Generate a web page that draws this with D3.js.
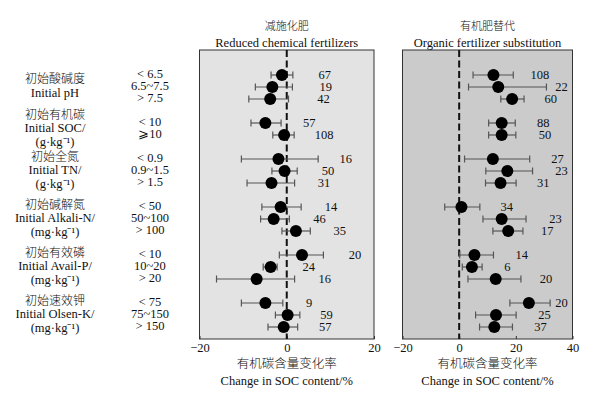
<!DOCTYPE html>
<html>
<head>
<meta charset="utf-8">
<script src="https://cdn.jsdelivr.net/npm/d3@7"></script>
<style>
  body { margin: 0; background: #fff; }
  svg text { font-family: "Liberation Serif", "Times New Roman", "Noto Sans CJK SC", serif; fill: #111; }
  svg text.zh { font-weight: 300; }
</style>
</head>
<body>
<div class="canvas"></div>
<script>
// row groups (Chinese name, English lines)
const groupZh = ['初始酸碱度', '初始有机碳', '初始全氮', '初始碱解氮', '初始有效磷', '初始速效钾'];
const groupEn = [
  ['Initial pH'],
  ['Initial SOC/', '(g·kg⁻¹)'],
  ['Initial TN/', '(g·kg⁻¹)'],
  ['Initial Alkali-N/', '(mg·kg⁻¹)'],
  ['Initial Avail-P/', '(mg·kg⁻¹)'],
  ['Initial Olsen-K/', '(mg·kg⁻¹)']
];
const categories = [
  ['< 6.5', '6.5~7.5', '> 7.5'],
  ['< 10', '⩾10'],
  ['< 0.9', '0.9~1.5', '> 1.5'],
  ['< 50', '50~100', '> 100'],
  ['< 10', '10~20', '> 20'],
  ['< 75', '75~150', '> 150']
];

// reduced chemical fertilizers
const rcfMean = [-1.1, -3.3, -3.8, -4.9, -0.6, -1.9, -0.5, -3.5, -1.4, -3.0, 2.1, 3.5, -3.7, -6.9, -4.9, 0.2, -0.7];
const rcfLow  = [-3.6, -7.2, -8.7, -8.2, -3.2, -10.4, -3.4, -9.1, -5.7, -6.0, -1.1, -1.7, -5.4, -16.1, -10.4, -2.6, -4.3];
const rcfHigh = [1.4, 1.3, 0.4, -1.3, 1.7, 7.2, 2.4, 1.8, 3.3, 0.6, 5.4, 8.4, -2.2, 1.8, -0.9, 3.0, 2.5];
const rcfN    = [67, 19, 42, 57, 108, 16, 50, 31, 14, 46, 35, 20, 24, 16, 9, 59, 57];

// organic fertilizer substitution
const ofsMean = [12.1, 13.8, 18.7, 15.0, 15.0, 11.9, 17.0, 14.6, 0.8, 15.0, 17.3, 5.4, 4.5, 12.9, 24.6, 13.0, 12.4];
const ofsLow  = [4.9, 3.3, 14.7, 10.4, 10.4, 1.9, 9.4, 9.3, -5.1, 8.4, 11.9, 0.2, 1.1, 3.1, 17.9, 5.8, 7.2];
const ofsHigh = [19.1, 30.8, 22.9, 19.8, 20.0, 24.9, 25.9, 20.1, 7.3, 23.6, 22.5, 12.1, 8.1, 21.8, 32.1, 20.1, 18.8];
const ofsN    = [108, 22, 60, 88, 50, 27, 23, 31, 34, 23, 17, 14, 6, 20, 20, 25, 37];

const rcfTicks = [-20, 0, 20];
const ofsTicks = [-20, 0, 20, 40];

// where each sample-size label starts (axis units), layout only
const rcfLabelAt = [7.3, 7.5, 7.0, 3.7, 6.4, 12.1, 8.0, 7.1, 8.7, 6.1, 10.7, 14.2, 3.6, 7.3, 4.4, 7.7, 7.4];
const ofsLabelAt = [25.2, 33.9, 30.1, 27.5, 28.1, 32.5, 33.9, 27.5, 14.6, 31.8, 28.9, 19.9, 15.9, 28.4, 33.9, 27.9, 26.5];

const svg = d3.select('.canvas')
  .append('svg')
    .attr('width', 602)
    .attr('height', 398);

const panelTop = 50, panelBottom = 339;

// slots: every category row plus a blank slot between groups
const slots = [];
const rowSlot = [];
categories.forEach((cats, g) => {
  cats.forEach((c, i) => { rowSlot.push(`${g}-${i}`); slots.push(`${g}-${i}`); });
  if (g < categories.length - 1) slots.push(`gap-${g}`);
});

const y = d3.scalePoint()
  .domain(slots)
  .range([75, 327]);

// left labels
categories.forEach((cats, g) => {
  const ys = cats.map((c, i) => y(`${g}-${i}`));
  const mid = (ys[0] + ys[ys.length - 1]) / 2;
  const lines = [groupZh[g]].concat(groupEn[g]);
  const startY = mid - (lines.length - 1) * 13.5 / 2 - 1;

  lines.forEach((line, j) => {
    svg.append('text')
      .attr('class', j === 0 ? 'zh' : null)
      .attr('x', 55)
      .attr('y', startY + j * 13.5)
      .attr('text-anchor', 'middle')
      .attr('dominant-baseline', 'central')
      .style('font-size', j === 0 ? '12px' : '12.5px')
      .text(line);
  });

  cats.forEach((c, i) => {
    svg.append('text')
      .attr('x', 150)
      .attr('y', ys[i] - 1.5)
      .attr('text-anchor', 'middle')
      .attr('dominant-baseline', 'central')
      .style('font-size', '12.5px')
      .text(c);
  });
});

function drawPanel(opt) {
  const x = d3.scaleLinear()
    .domain(opt.domain)
    .range(opt.range);

  const rows = opt.mean.map((m, i) => ({
    mean: m, low: opt.low[i], high: opt.high[i], n: opt.n[i], at: opt.labelAt[i], slot: rowSlot[i]
  }));

  const g = svg.append('g');
  const midX = (opt.range[0] + opt.range[1]) / 2;

  g.append('rect')
    .attr('x', opt.range[0])
    .attr('y', panelTop)
    .attr('width', opt.range[1] - opt.range[0])
    .attr('height', panelBottom - panelTop)
    .attr('fill', opt.fill)
    .attr('stroke', '#333')
    .attr('stroke-width', 1);

  // titles
  g.append('text')
    .attr('class', 'zh')
    .attr('x', midX)
    .attr('y', 26)
    .attr('text-anchor', 'middle')
    .attr('dominant-baseline', 'central')
    .style('font-size', '11px')
    .text(opt.titleZh);
  g.append('text')
    .attr('x', midX)
    .attr('y', 42.5)
    .attr('text-anchor', 'middle')
    .attr('dominant-baseline', 'central')
    .style('font-size', '12.5px')
    .text(opt.titleEn);

  // axis
  const axis = d3.axisBottom(x)
    .tickValues(opt.ticks)
    .tickSizeInner(-3)
    .tickSizeOuter(0)
    .tickPadding(4)
    .tickFormat(d => d < 0 ? '−' + Math.abs(d) : d);

  const ax = g.append('g')
    .attr('transform', `translate(0, ${panelBottom})`)
    .call(axis);
  ax.select('.domain').remove();
  ax.selectAll('line').attr('stroke', '#333');
  ax.selectAll('text')
    .style('font-size', '12.5px')
    .attr('fill', '#111');

  // zero line
  g.append('line')
    .attr('x1', x(0)).attr('x2', x(0))
    .attr('y1', panelTop).attr('y2', panelBottom)
    .attr('stroke', '#111')
    .attr('stroke-width', 2)
    .attr('stroke-dasharray', '7,3.5');

  // error bars
  const bars = g.selectAll('.bar')
    .data(rows)
    .enter()
    .append('g')
      .attr('class', 'bar')
      .attr('transform', d => `translate(0, ${y(d.slot)})`);

  bars.append('line')
    .attr('x1', d => x(d.low))
    .attr('x2', d => x(d.high))
    .attr('stroke', '#555')
    .attr('stroke-width', 1.2);
  bars.selectAll('.cap')
    .data(d => [d.low, d.high])
    .enter()
    .append('line')
      .attr('x1', v => x(v)).attr('x2', v => x(v))
      .attr('y1', -3.5).attr('y2', 3.5)
      .attr('stroke', '#555')
      .attr('stroke-width', 1.2);

  bars.append('circle')
    .attr('cx', d => x(d.mean))
    .attr('r', 6)
    .attr('fill', '#000');

  bars.append('text')
    .attr('x', d => x(d.at))
    .attr('dominant-baseline', 'central')
    .attr('fill', '#111')
    .style('font-size', '12.5px')
    .text(d => d.n);

  // x title
  g.append('text')
    .attr('class', 'zh')
    .attr('x', midX)
    .attr('y', 364)
    .attr('text-anchor', 'middle')
    .attr('dominant-baseline', 'central')
    .style('font-size', '12.5px')
    .text('有机碳含量变化率');
  g.append('text')
    .attr('x', midX)
    .attr('y', 381)
    .attr('text-anchor', 'middle')
    .attr('dominant-baseline', 'central')
    .style('font-size', '12.5px')
    .text('Change in SOC content/%');
}

drawPanel({
  domain: [-20, 20], range: [199.5, 374],
  mean: rcfMean, low: rcfLow, high: rcfHigh, n: rcfN, labelAt: rcfLabelAt,
  ticks: rcfTicks, fill: '#e3e3e3',
  titleZh: '减施化肥', titleEn: 'Reduced chemical fertilizers'
});

drawPanel({
  domain: [-20, 40], range: [402.5, 572.5],
  mean: ofsMean, low: ofsLow, high: ofsHigh, n: ofsN, labelAt: ofsLabelAt,
  ticks: ofsTicks, fill: '#cbcbcb',
  titleZh: '有机肥替代', titleEn: 'Organic fertilizer substitution'
});
</script>
</body>
</html>
